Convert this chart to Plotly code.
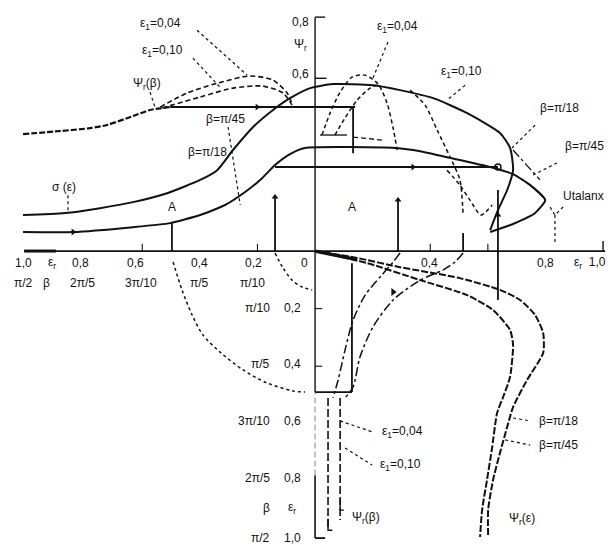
import plotly.graph_objects as go

# ---------------- upper half: Ψ over ε_r (left, mirrored) and over the right axis ----------------
psi_beta_x = [-1.014, -0.885, -0.781, -0.722, -0.632, -0.573, -0.503]
psi_beta_y = [0.406, 0.417, 0.427, 0.438, 0.469, 0.490, 0.500]

eps004_x = [-0.538, -0.444, -0.340, -0.226, -0.146, -0.097, -0.080]
eps004_y = [0.500, 0.549, 0.583, 0.608, 0.594, 0.549, 0.510]
eps010_x = [-0.531, -0.399, -0.285, -0.181, -0.111, -0.080]
eps010_y = [0.497, 0.535, 0.566, 0.573, 0.549, 0.507]

upper_x = [-1.014, -0.868, -0.747, -0.632, -0.514, -0.399, -0.340, -0.285, -0.215, -0.146,
           -0.087, -0.017, 0.0625, 0.201, 0.295, 0.410, 0.528, 0.642, 0.677, 0.6875, 0.667,
           0.635, 0.608]
upper_y = [0.125, 0.132, 0.149, 0.170, 0.201, 0.247, 0.281, 0.351, 0.431, 0.490,
           0.531, 0.566, 0.580, 0.576, 0.559, 0.531, 0.479, 0.410, 0.358, 0.281, 0.212,
           0.142, 0.073]

lower_x = [-1.014, -0.840, -0.632, -0.503, -0.399, -0.3125, -0.243, -0.184, -0.139, -0.087,
           -0.035, 0.278, 0.365, 0.458, 0.608, 0.6875, 0.747, 0.799, 0.764, 0.6875, 0.608]
lower_y = [0.066, 0.066, 0.083, 0.097, 0.125, 0.160, 0.205, 0.253, 0.299, 0.337,
           0.358, 0.358, 0.347, 0.326, 0.292, 0.267, 0.229, 0.177, 0.132, 0.094, 0.066]

level_high_x = [-0.503, 0.139]
level_high_y = [0.500, 0.500]
level_mid_x = [-0.139, 0.635]
level_mid_y = [0.292, 0.292]

# dashed ε-lines on the right of the Ψ axis
eps_r1_x = [0.024, 0.052, 0.087, 0.128, 0.174, 0.219, 0.250, 0.271, 0.285]
eps_r1_y = [0.403, 0.479, 0.552, 0.604, 0.611, 0.580, 0.514, 0.427, 0.351]
eps_r2_x = [0.069, 0.104, 0.146, 0.191, 0.226]
eps_r2_y = [0.403, 0.462, 0.524, 0.566, 0.580]
eps_r3_x = [0.330, 0.382, 0.424, 0.469, 0.503, 0.514]
eps_r3_y = [0.559, 0.507, 0.420, 0.326, 0.247, 0.125]
eps_r4_x = [0.458, 0.503, 0.538, 0.576, 0.615]
eps_r4_y = [0.281, 0.229, 0.177, 0.125, 0.160]
eps_r5_x = [0.132, 0.236]
eps_r5_y = [0.396, 0.385]
beta_r_x = [0.6875, 0.781]
beta_r_y = [0.351, 0.247]

# projection verticals
proj_x = [-0.497, -0.139, 0.288, 0.514, 0.635, 0.132, 0.128]
proj_lo = [0.0, 0.0, 0.0, 0.0, -0.170, 0.340, -0.490]
proj_hi = [0.101, 0.1875, 0.177, 0.0625, 0.212, 0.500, -0.042]

# ---------------- lower half: Ψ_r(ε) and transfer arcs ----------------
psi_eps18_x = [0.0, 0.146, 0.295, 0.503, 0.642, 0.712, 0.764, 0.792, 0.792, 0.736, 0.6875,
               0.667, 0.642, 0.618, 0.601, 0.601]
psi_eps18_y = [0.0, -0.024, -0.056, -0.094, -0.135, -0.170, -0.222, -0.285, -0.354, -0.448,
               -0.542, -0.611, -0.701, -0.795, -0.899, -0.993]
psi_eps45_x = [0.0, 0.181, 0.365, 0.528, 0.618, 0.677, 0.6875, 0.677, 0.653, 0.632, 0.615,
               0.597, 0.580, 0.573]
psi_eps45_y = [0.0, -0.042, -0.101, -0.153, -0.205, -0.274, -0.326, -0.4375, -0.507, -0.5625,
               -0.681, -0.795, -0.899, -0.993]

arc_a_x = [-0.493, -0.462, -0.427, -0.389, -0.330, -0.250, -0.167, -0.076, -0.035]
arc_a_y = [-0.038, -0.135, -0.222, -0.292, -0.351, -0.413, -0.458, -0.486, -0.490]
arc_b_x = [-0.139, -0.111, -0.080, -0.045, -0.010]
arc_b_y = [-0.007, -0.059, -0.101, -0.125, -0.135]

arc_c_x = [0.295, 0.271, 0.226, 0.174, 0.132, 0.104, 0.080, 0.0625]
arc_c_y = [-0.007, -0.038, -0.090, -0.153, -0.240, -0.344, -0.448, -0.510]
arc_d_x = [0.514, 0.486, 0.444, 0.365, 0.271, 0.201, 0.156, 0.132, 0.104]
arc_d_y = [-0.007, -0.038, -0.066, -0.101, -0.170, -0.264, -0.368, -0.472, -0.510]

foot_x = [0.0, 0.128]
foot_y = [-0.490, -0.490]
eps_b1_x = [0.045, 0.045]
eps_b1_y = [-0.510, -0.969]
eps_b2_x = [0.087, 0.087]
eps_b2_y = [-0.510, -0.934]

# ---------------- tick labels ----------------
left_top_text = ["1,0", "ε<sub>r</sub>", "0,8", "0,6", "0,4", "0,2", "0", "0,4", "0,8", "ε<sub>r</sub>  1,0"]
left_top_x = [-1.014, -0.913, -0.816, -0.622, -0.403, -0.215, -0.035, 0.396, 0.799, 0.955]
left_bot_text = ["π/2", "β", "2π/5", "3π/10", "π/5", "π/10"]
left_bot_x = [-1.014, -0.931, -0.809, -0.604, -0.403, -0.219]

down_beta_text = ["π/10", "π/5", "3π/10", "2π/5", "β", "π/2"]
down_eps_text = ["0,2", "0,4", "0,6", "0,8", "ε<sub>r</sub>", "1,0"]
down_y = [-0.198, -0.392, -0.590, -0.788, -0.892, -0.997]

note_text = ["ε<sub>1</sub>=0,04", "ε<sub>1</sub>=0,10", "Ψ<sub>r</sub>(β)", "β=π/45", "β=π/18",
             "σ (ε)", "0,8", "Ψ<sub>r</sub>", "0,6", "ε<sub>1</sub>=0,04", "ε<sub>1</sub>=0,10",
             "β=π/18", "β=π/45", "Utalanx", "A", "A", "ε<sub>1</sub>=0,04", "ε<sub>1</sub>=0,10",
             "β=π/18", "β=π/45", "Ψ<sub>r</sub>(ε)", "Ψ<sub>r</sub>(β)"]
note_x = [-0.538, -0.531, -0.583, -0.3125, -0.375, -0.872, -0.052, -0.052, -0.049, 0.285, 0.507,
          0.847, 0.934, 0.931, -0.497, 0.128, 0.302, 0.295, 0.844, 0.844, 0.719, 0.177]
note_y = [0.788, 0.694, 0.580, 0.458, 0.344, 0.222, 0.795, 0.715, 0.615, 0.778, 0.622,
          0.497, 0.365, 0.191, 0.153, 0.153, -0.628, -0.743, -0.590, -0.674, -0.931, -0.927]

# leader lines (start x, end x, start y, end y)
lead_x0 = [-0.410, -0.424, -0.573, -0.302, -0.858, 0.253, 0.521, 0.764, 0.840, 0.833, 0.087, 0.104, 0.6875, 0.660]
lead_x1 = [-0.236, -0.330, -0.556, -0.260, -0.858, 0.198, 0.458, 0.684, 0.757, 0.833, 0.198, 0.198, 0.747, 0.747]
lead_y0 = [0.767, 0.670, 0.552, 0.431, 0.194, 0.726, 0.576, 0.4375, 0.306, 0.125, -0.590, -0.684, -0.580, -0.656]
lead_y1 = [0.611, 0.569, 0.500, 0.160, 0.132, 0.594, 0.524, 0.358, 0.264, 0.021, -0.628, -0.743, -0.590, -0.674]

INK = "#111111"
fig = go.Figure()


def line(x, y, width=1.8, dash="solid", shape="spline", smooth=0.7, color=INK):
    fig.add_trace(go.Scatter(x=x, y=y, mode="lines", hoverinfo="skip",
                             line=dict(color=color, width=width, dash=dash,
                                       shape=shape, smoothing=smooth if shape == "spline" else None)))


# axes drawn as plain lines
line([-1.01, 1.007], [0, 0], width=1.8, shape="linear")
line([-1.01, -0.90], [0, 0], width=3, shape="linear")
line([0, 0], [-0.490, 0.8125], width=1.4, shape="linear")
line([0, 0], [-0.78, -0.490], width=1.2, color="#9a9a9a", dash="6px,3px", shape="linear")
line([0, 0], [-0.997, -0.78], width=1.6, shape="linear")
line([0, 0.035], [0.8125, 0.8125], width=1.4, shape="linear")
line([0, 0.04], [0.60, 0.60], width=1.4, shape="linear")
line([0, 0.035], [-0.997, -0.997], width=1.8, shape="linear")
for t in [-0.6, -0.2, 0.4, 0.6]:
    line([t, t], [0, 0.025], width=1.1, shape="linear")
line([1.0, 1.0], [0, 0.035], width=1.4, shape="linear")
for t in [-0.2, -0.4]:
    line([0, 0.025], [t, t], width=1.1, shape="linear")

# upper half
line(psi_beta_x, psi_beta_y, width=2.2, dash="6px,2px")
line(eps004_x, eps004_y, width=1.6, dash="5px,3px")
line(eps010_x, eps010_y, width=1.6, dash="5px,3px")
line(upper_x, upper_y, width=2.0, smooth=0.6)
line(lower_x, lower_y, width=2.0, smooth=0.5)
line(level_high_x, level_high_y, width=2.0, shape="linear")
line(level_mid_x, level_mid_y, width=2.0, shape="linear")
line(eps_r1_x, eps_r1_y, width=1.5, dash="4px,3px")
line(eps_r2_x, eps_r2_y, width=1.5, dash="4px,3px")
line(eps_r3_x, eps_r3_y, width=1.5, dash="4px,3px")
line(eps_r4_x, eps_r4_y, width=1.5, dash="4px,3px")
line(eps_r5_x, eps_r5_y, width=1.3, dash="5px,3px", shape="linear")
line(beta_r_x, beta_r_y, width=1.3, dash="dashdot", shape="linear")
line([0.017, 0.111], [0.403, 0.403], width=1.3, shape="linear")
for px_, lo, hi in zip(proj_x, proj_lo, proj_hi):
    line([px_, px_], [lo, hi], width=1.8, shape="linear")

# lower half
line(psi_eps18_x, psi_eps18_y, width=2.0, dash="7px,2px", smooth=0.6)
line(psi_eps45_x, psi_eps45_y, width=2.0, dash="7px,2px", smooth=0.6)
line([0.0, 0.146], [0.0, -0.03], width=3.4, shape="linear")
line(arc_a_x, arc_a_y, width=1.5, dash="dot", smooth=0.8)
line(arc_b_x, arc_b_y, width=1.5, dash="dot", smooth=0.8)
line(arc_c_x, arc_c_y, width=1.5, dash="dashdot", smooth=0.8)
line(arc_d_x, arc_d_y, width=1.5, dash="dashdot", smooth=0.8)
line(foot_x, foot_y, width=1.8, shape="linear")
line(eps_b1_x, eps_b1_y, width=1.6, dash="8px,3px", shape="linear")
line(eps_b2_x, eps_b2_y, width=1.6, dash="8px,3px", shape="linear")
line([0.045, 0.045, 0.06], [-0.93, -0.97, -0.97], width=1.4, shape="linear")
line([0.087, 0.087, 0.10], [-0.86, -0.90, -0.90], width=1.4, shape="linear")

# leaders
for a, b, c, d in zip(lead_x0, lead_x1, lead_y0, lead_y1):
    line([a, b], [c, d], width=1.2, dash="dot", shape="linear")
line([0.816, 0.833, 0.861], [0.153, 0.125, 0.153], width=1.2, dash="dot", shape="linear")

# arrow heads and the end mark
fig.add_trace(go.Scatter(x=[-0.201, 0.340, -0.840], y=[0.5, 0.292, 0.066], mode="markers",
                         hoverinfo="skip", marker=dict(symbol="triangle-right", size=6, color=INK)))
fig.add_trace(go.Scatter(x=[-0.139, 0.635, 0.288], y=[0.1875, 0.125, 0.177], mode="markers",
                         hoverinfo="skip", marker=dict(symbol="triangle-up", size=6, color=INK)))
fig.add_trace(go.Scatter(x=[0.271], y=[-0.142], mode="markers", hoverinfo="skip",
                         marker=dict(symbol="triangle-right", size=7, color=INK)))
fig.add_trace(go.Scatter(x=[0.635], y=[0.292], mode="markers", hoverinfo="skip",
                         marker=dict(symbol="circle-open", size=6, color=INK, line=dict(width=1.5))))

FONT = dict(family="Liberation Sans", size=12, color=INK)
ann = []
for t, x in zip(left_top_text, left_top_x):
    ann.append(dict(x=x, y=-0.042, text=t))
for t, x in zip(left_bot_text, left_bot_x):
    ann.append(dict(x=x, y=-0.111, text=t))
for t, y in zip(down_beta_text, down_y):
    ann.append(dict(x=-0.149, y=y, text=t, xanchor="right"))
for t, y in zip(down_eps_text, down_y):
    ann.append(dict(x=-0.080, y=y, text=t))
for t, x, y in zip(note_text, note_x, note_y):
    ann.append(dict(x=x, y=y, text=t))
for a in ann:
    a.setdefault("xanchor", "center")
    a.update(yanchor="middle", showarrow=False, font=FONT, xref="x", yref="y")

fig.update_layout(
    width=612, height=545, margin=dict(l=0, r=0, t=0, b=0),
    paper_bgcolor="white", plot_bgcolor="white", showlegend=False,
    xaxis=dict(range=[-1.094, 1.031], visible=False, fixedrange=True),
    yaxis=dict(range=[-1.021, 0.872], visible=False, fixedrange=True),
    annotations=ann,
)

fig.write_html("out.html")
